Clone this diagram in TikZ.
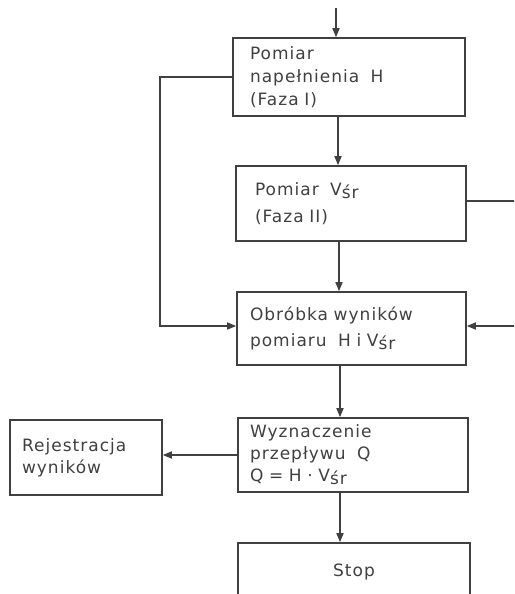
\documentclass[tikz,border=0pt]{standalone}
\usepackage{fontspec}
\setmainfont{DejaVu Sans}[LetterSpace=6]
\usetikzlibrary{arrows.meta}
\definecolor{ink}{HTML}{404040}
\newcommand{\vsr}{V\raisebox{-3pt}{śr}}
\begin{document}
\begin{tikzpicture}[x=1pt,y=-1pt,
  box/.style={draw=ink, line width=1.6pt, text=ink, align=left, inner ysep=0pt, font=\fontsize{17}{23}\selectfont},
  arr/.style={draw=ink, line width=1.6pt, -{Triangle[length=9pt,width=7pt]}},
  ln/.style={draw=ink, line width=1.6pt}]
\useasboundingbox (0,0) rectangle (514,594);
\fill[white] (0,0) rectangle (514,594);
\clip (0,0) rectangle (514,594);
\node[box, minimum height=78pt, inner xsep=17pt, text width=198pt] (b1) at (349,77) {Pomiar\\napełnienia~~H\\(Faza~I)};
\node[box, minimum height=75pt, inner xsep=19pt, text width=192pt, font=\fontsize{17}{27}\selectfont] (b2) at (351,203.5) {Pomiar~~\vsr\\(Faza~II)};
\node[box, minimum height=73pt, inner xsep=13pt, text width=203pt, font=\fontsize{17}{26}\selectfont] (b3) at (351.5,328.5) {Obróbka wyników\\pomiaru~~H~i~\vsr};
\node[box, minimum height=74pt, inner xsep=12pt, text width=206pt, font=\fontsize{17}{22}\selectfont] (b4) at (353,455) {Wyznaczenie\\przepływu~~Q\\Q~=~H~·~\vsr};
\node[box, minimum height=75pt, inner xsep=12pt, text width=128pt, font=\fontsize{17}{22}\selectfont] (rej) at (86,457.5) {Rejestracja\\wyników};
\node[box, minimum height=58pt, inner xsep=12pt, text width=208pt, align=center] (stop) at (354,572) {Stop};
\coordinate (top) at (336,8);
\coordinate (x1) at (338,0);
\coordinate (x2) at (339,0);
\coordinate (x3) at (340,0);
\coordinate (L) at (160,326);
\coordinate (R) at (520,326);
\coordinate (r0) at (0,201);
\draw[arr] (top) -- (top |- b1.north);
\draw[arr] (b1.south -| x1) -- (b2.north -| x1);
\draw[arr] (b2.south -| x2) -- (b3.north -| x2);
\draw[arr] (b3.south -| x3) -- (b4.north -| x3);
\draw[arr] (b4.south -| x3) -- (stop.north -| x3);
\draw[arr] (b1.west) -| (L) -- (L -| b3.west);
\draw[arr] (b2.east |- r0) -| (R) -- (R -| b3.east);
\draw[arr] (b4.west) -- (b4.west -| rej.east);
\end{tikzpicture}
\end{document}
